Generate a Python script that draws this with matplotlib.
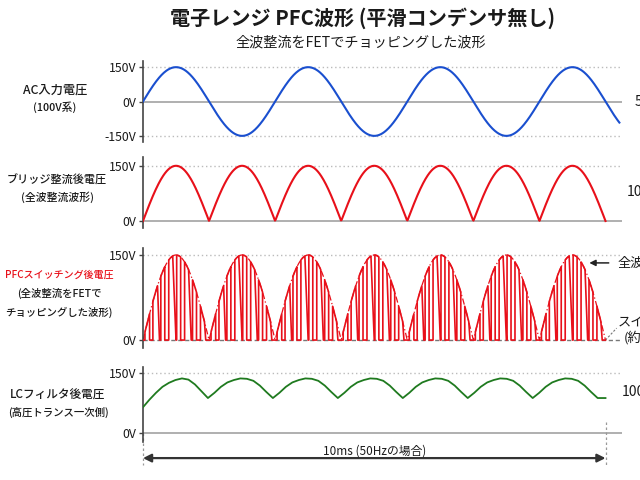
import numpy as np
import matplotlib
matplotlib.use("Agg")
import matplotlib.pyplot as plt

plt.rcParams['font.family'] = ['Noto Sans CJK JP', 'DejaVu Sans']

# ---- data ----
v_peak = 150              # V
n_half = 7                # half cycles inside the 10 ms span
t_span = 10.0             # ms
ac_end = 10.3             # AC trace runs a bit past the span

# PFC switching: on/off edges as fraction of one half cycle, plus slanted fall
pfc_on = [0.03, 0.15, 0.27, 0.39, 0.51, 0.63, 0.75, 0.87]
pfc_off = [0.10, 0.22, 0.33, 0.45, 0.57, 0.69, 0.81, 0.93]
pfc_fall = [0.00, 0.03, 0.00, 0.05, 0.00, 0.04, 0.00, 0.02]

# LC filter output, sampled per half cycle
lc_frac = [0.0, 0.1, 0.2, 0.3, 0.4, 0.5, 0.6, 0.7, 0.8, 0.9, 1.0]
lc_first = [65, 84, 101, 116, 126, 133, 137, 134, 122, 105, 88]
lc_hump = [88, 101, 116, 127, 133, 137, 136, 131, 119, 103, 88]
lc_tail = 88

labels = [["AC入力電圧", "(100V系)"],
          ["ブリッジ整流後電圧", "(全波整流波形)"],
          ["PFCスイッチング後電圧", "(全波整流をFETで", "チョッピングした波形)"],
          ["LCフィルタ後電圧", "(高圧トランス一次側)"]]
label_fs = [[8.8, 7.8], [8.0, 7.8], [7.2, 7.5, 7.5], [8.4, 7.5]]

BLUE = '#1a4fcf'
RED = '#e8101a'
GREEN = '#1f7a1f'
TXT = '#1a1a1a'

hump = t_span / n_half
xmax = 10.35

fig = plt.figure(figsize=(6.4, 4.8), dpi=100)

fig.text(0.567, 0.962, "電子レンジ PFC波形 (平滑コンデンサ無し)", ha='center', va='center',
         fontsize=14.5, fontweight='bold', color=TXT)
fig.text(0.564, 0.912, "全波整流をFETでチョッピングした波形", ha='center', va='center',
         fontsize=10.2, color=TXT)

# axes rectangles [left, bottom, width, height] and ylims
rects = [[0.2234, 0.705, 0.748, 0.167],
         [0.2234, 0.525, 0.748, 0.148],
         [0.2234, 0.275, 0.748, 0.208],
         [0.2234, 0.079, 0.748, 0.156]]
ylims = [(-175, 175), (-19, 174), (-14, 162), (-22, 165)]
yticks = [[-150, 0, 150], [0, 150], [0, 150], [0, 150]]
label_y = [[90, 107], [180, 197], [275, 293, 312], [395, 412]]
label_x = [55, 57, 59, 58]

axes = []
for i, r in enumerate(rects):
    ax = fig.add_axes(r)
    ax.set_xlim(0, xmax)
    ax.set_ylim(*ylims[i])
    for s in ['top', 'right', 'bottom']:
        ax.spines[s].set_visible(False)
    ax.spines['left'].set_color('#444444')
    ax.spines['left'].set_linewidth(1.2)
    ax.set_xticks([])
    ax.set_yticks(yticks[i])
    ax.set_yticklabels([f"{v}V" for v in yticks[i]])
    ax.tick_params(axis='y', length=3, width=1, color='#444444', labelsize=8.8,
                   labelcolor=TXT, pad=2)
    ax.patch.set_alpha(0)
    for v in yticks[i]:
        if v == 0:
            if i == 2:
                ax.axhline(0, color='#777777', lw=1, ls=(0, (3, 2)), zorder=1)
            else:
                ax.axhline(0, color='#9a9a9a', lw=1.1, zorder=1)
        else:
            ax.axhline(v, color='#bbbbbb', lw=1, ls=(0, (1, 2)), zorder=1)
    # left side labels
    for j, line in enumerate(labels[i]):
        col = RED if (i == 2 and j == 0) else TXT
        fig.text(label_x[i] / 640, 1 - label_y[i][j] / 480, line, ha='center', va='center',
                 fontsize=label_fs[i][j], color=col, fontweight='medium')
    axes.append(ax)

# AC input
t_ac = np.linspace(0, ac_end, 800)
axes[0].plot(t_ac, v_peak * np.sin(np.pi * t_ac / hump), color=BLUE, lw=1.5, zorder=3)

# bridge rectified
t_r = np.linspace(0, t_span, 800)
axes[1].plot(t_r, np.abs(v_peak * np.sin(np.pi * t_r / hump)), color=RED, lw=1.5, zorder=3)

# PFC switching
env = lambda t: np.abs(v_peak * np.sin(np.pi * t / hump))
axes[2].plot(t_r, env(t_r), color=RED, lw=0.9, ls=(0, (5, 2, 1, 2)), zorder=2)
px, py = [0.0], [0.0]
for k in range(n_half):
    for a, b, f in zip(pfc_on, pfc_off, pfc_fall):
        t0 = (k + a) * hump
        t1 = (k + b) * hump
        tt = np.linspace(t0, t1, 6)
        px += [t0] + list(tt) + [t1 + f * hump]
        py += [0] + list(env(tt)) + [0]
px.append(t_span)
py.append(0)
axes[2].plot(px, py, color=RED, lw=1.2, zorder=3)

# LC filter output
lx, ly = [], []
for k in range(n_half):
    prof = lc_first if k == 0 else lc_hump
    start = 0 if k == 0 else 1
    for fr, v in list(zip(lc_frac, prof))[start:]:
        lx.append((k + fr) * hump * 0.983)
        ly.append(v)
lx.append(t_span)
ly.append(lc_tail)
axes[3].plot(lx, ly, color=GREEN, lw=1.3, zorder=3)

# right side notes (cut by the figure edge as in the reference)
axes[0].text(10.63, 0, "50Hz", ha='left', va='center', fontsize=10, color=TXT, clip_on=False)
axes[1].text(10.45, 79, "100Hz", ha='left', va='center', fontsize=10, color=TXT, clip_on=False)
axes[2].annotate("", xy=(9.59, 136), xytext=(10.13, 136),
                 arrowprops=dict(arrowstyle='-|>', color='#222222', lw=1.1, mutation_scale=9),
                 annotation_clip=False)
axes[2].text(10.26, 136, "全波整流波形", ha='left', va='center', fontsize=9.5, color=TXT, clip_on=False)
axes[2].plot([10.0, 10.24], [0, 21], color='#777777', lw=0.8, ls=(0, (2, 1.5)), clip_on=False)
axes[2].text(10.26, 31, "スイッチング", ha='left', va='center', fontsize=9.5, color=TXT, clip_on=False)
axes[2].text(10.40, 4, "(約20kHz)", ha='left', va='center', fontsize=9.5, color=TXT, clip_on=False)
axes[3].text(10.35, 102, "100Hz", ha='left', va='center', fontsize=10, color=TXT, clip_on=False)

# 10 ms span marker
ax = axes[3]
ax.plot([0, 0], [0, -80], color='#999999', lw=0.9, ls=(0, (2, 2)), clip_on=False)
ax.plot([t_span, t_span], [27, -80], color='#999999', lw=0.9, ls=(0, (2, 2)), clip_on=False)
ax.annotate("", xy=(0, -62), xytext=(t_span, -62),
            arrowprops=dict(arrowstyle='<|-|>', color='#333333', lw=1.6, mutation_scale=12,
                            shrinkA=0, shrinkB=0),
            annotation_clip=False)
ax.text(t_span / 2, -44, "10ms (50Hzの場合)", ha='center', va='center', fontsize=8.5,
        color=TXT, clip_on=False)

fig.savefig("out.png", dpi=100)
